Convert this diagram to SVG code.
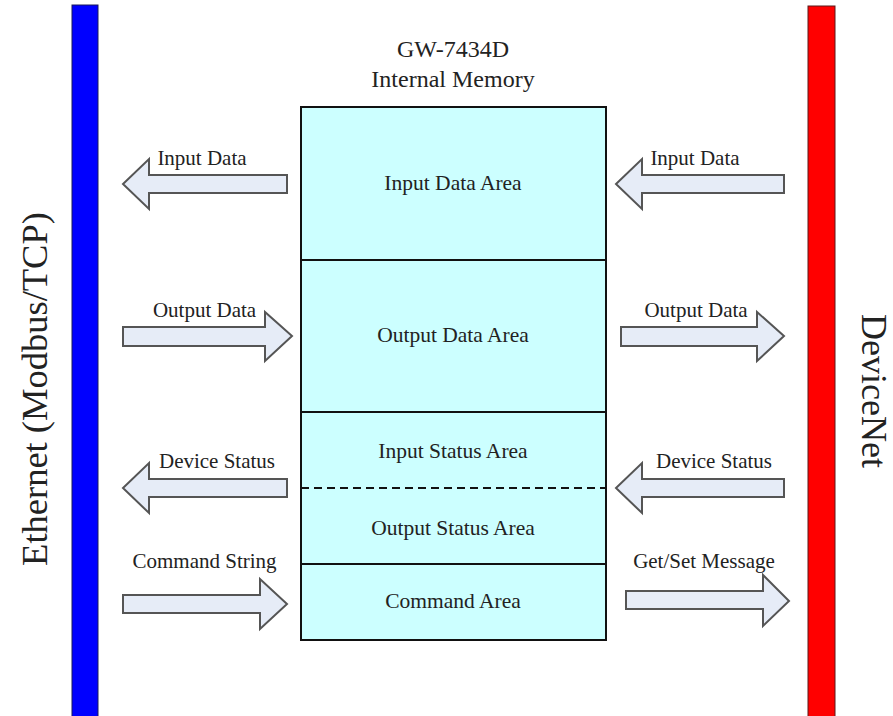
<svg xmlns="http://www.w3.org/2000/svg" width="893" height="716" viewBox="0 0 893 716">
<style>
text{font-family:"Liberation Serif","Times New Roman",serif;fill:#222}
.lbl{font-size:21px}
.box{font-size:21.5px}
.ttl{font-size:24px}
.arr{fill:#e6ecf7;stroke:#555;stroke-width:2;stroke-linejoin:miter}
.area{fill:#ccffff;stroke:#111;stroke-width:2}
</style>
<rect width="893" height="716" fill="#fff"/>
<g id="ethernet">
<rect x="72" y="5" width="26" height="715" fill="#0000ff" stroke="#1a1a5a" stroke-width="1"/>
<text style="font-size:36.5px" transform="translate(47,389) rotate(-90)" text-anchor="middle">Ethernet (Modbus/TCP)</text>
</g>
<g id="devicenet">
<rect x="808" y="6" width="27" height="715" fill="#ff0000" stroke="#5a1a1a" stroke-width="1"/>
<text style="font-size:36px" transform="translate(862,391) rotate(90)" text-anchor="middle">DeviceNet</text>
</g>
<g id="title">
<text class="ttl" x="453" y="57" text-anchor="middle">GW-7434D</text>
<text class="ttl" x="453" y="87" text-anchor="middle">Internal Memory</text>
</g>
<g id="memory">
<rect class="area" x="301" y="107" width="305" height="533"/>
<line x1="301" y1="260" x2="606" y2="260" stroke="#111" stroke-width="2"/>
<line x1="301" y1="412" x2="606" y2="412" stroke="#111" stroke-width="2"/>
<line x1="301" y1="488" x2="606" y2="488" stroke="#111" stroke-width="2" stroke-dasharray="8,5"/>
<line x1="301" y1="564" x2="606" y2="564" stroke="#111" stroke-width="2"/>
<text class="box" x="453" y="190" text-anchor="middle">Input Data Area</text>
<text class="box" x="453" y="342" text-anchor="middle">Output Data Area</text>
<text class="box" x="453" y="458" text-anchor="middle">Input Status Area</text>
<text class="box" x="453" y="535" text-anchor="middle">Output Status Area</text>
<text class="box" x="453" y="608" text-anchor="middle">Command Area</text>
</g>
<g id="connectors">
<polygon class="arr" points="287,175 149,175 149,159 123,184 149,209 149,193 287,193"/>
<polygon class="arr" points="784,175 642,175 642,159 616,184 642,209 642,193 784,193"/>
<polygon class="arr" points="123,327 265,327 265,312 292,336 265,361 265,346 123,346"/>
<polygon class="arr" points="621,327 757,327 757,312 784,336 757,361 757,346 621,346"/>
<polygon class="arr" points="287,479 149,479 149,463 123,488 149,513 149,497 287,497"/>
<polygon class="arr" points="784,479 642,479 642,463 616,488 642,513 642,497 784,497"/>
<polygon class="arr" points="123,595 260,595 260,579 287,604 260,629 260,613 123,613"/>
<polygon class="arr" points="626,591 763,591 763,575 789,601 763,626 763,609 626,609"/>
</g>
<g id="labels">
<text class="lbl" x="202" y="165" text-anchor="middle">Input Data</text>
<text class="lbl" x="695" y="165" text-anchor="middle">Input Data</text>
<text class="lbl" x="204.5" y="317" text-anchor="middle">Output Data</text>
<text class="lbl" x="696" y="317" text-anchor="middle">Output Data</text>
<text class="lbl" x="217" y="468" text-anchor="middle">Device Status</text>
<text class="lbl" x="714" y="468" text-anchor="middle">Device Status</text>
<text class="lbl" x="204.5" y="568" text-anchor="middle">Command String</text>
<text class="lbl" x="704" y="568" text-anchor="middle">Get/Set Message</text>
</g>
</svg>
